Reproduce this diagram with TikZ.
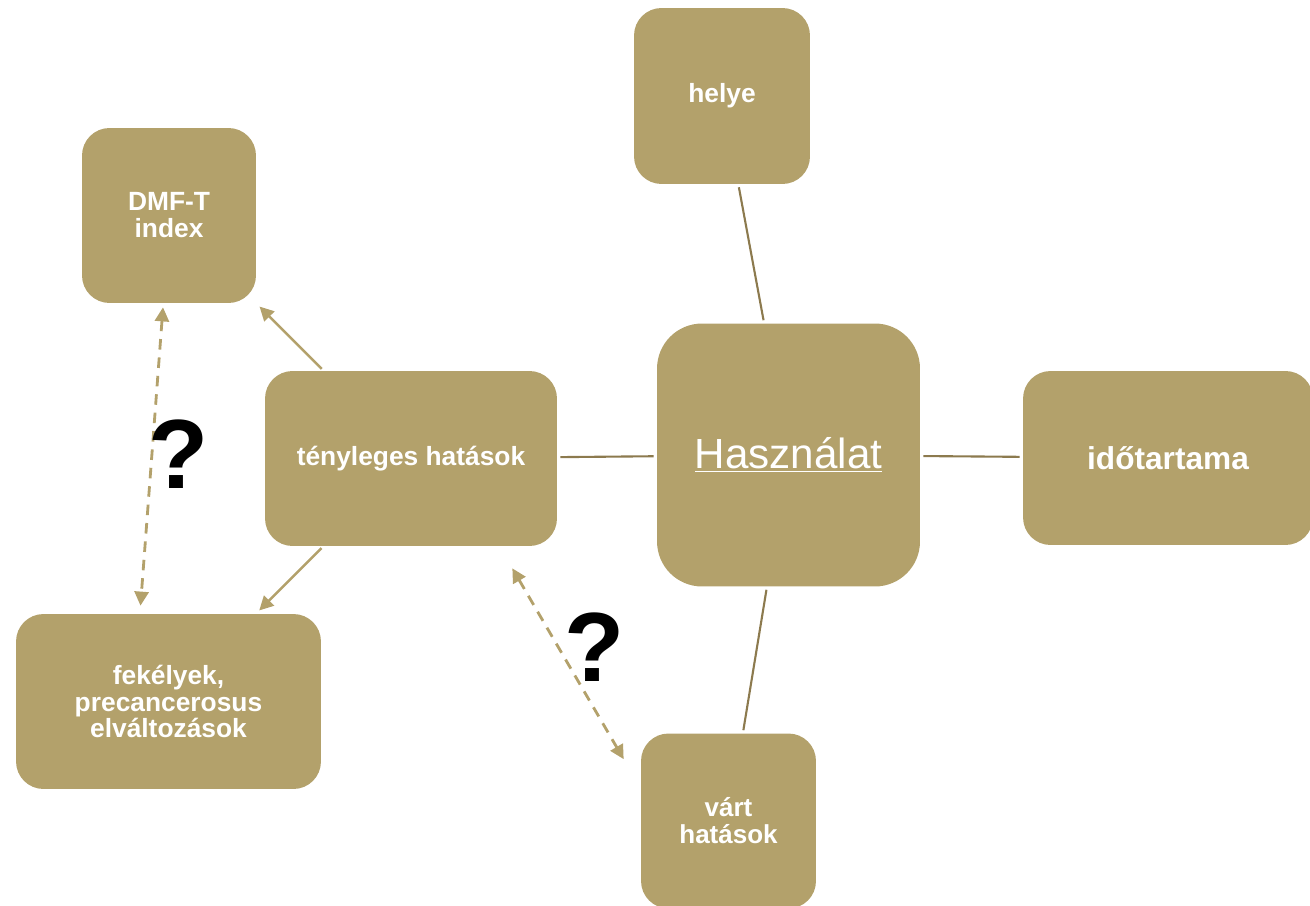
\documentclass[tikz,border=0pt]{standalone}
\usepackage{fontspec}
\setmainfont{Liberation Sans}
\usetikzlibrary{positioning}
\usetikzlibrary{calc}
\usetikzlibrary{arrows.meta}
\definecolor{arany}{RGB}{179,161,107}
\definecolor{sotetarany}{RGB}{140,122,78}

\begin{document}
\begin{tikzpicture}[x=0.02cm,y=-0.02cm]
% paramètres
\tikzstyle doboz=[fill=arany,text=white,rounded corners=0.55cm,align=center,inner sep=0pt]
\tikzstyle nagydoboz=[doboz,rounded corners=0.9cm]
\tikzstyle vonal=[draw=sotetarany,line width=1.2pt,shorten <=1.7pt,shorten >=1.7pt]
\tikzstyle nyil=[draw=arany,line width=1.4pt,-{Triangle[length=8pt,width=8pt]},shorten <=1.4pt,shorten >=2.6pt]
\tikzstyle szaggatott=[draw=arany,line width=1.6pt,dash pattern=on 6pt off 4.5pt,{Triangle[length=8pt,width=8pt]}-{Triangle[length=8pt,width=8pt]}]
\tikzstyle kerdes=[font=\bfseries\fontsize{56}{60}\selectfont,inner sep=0pt]
\newcommand{\kisbetu}{\bfseries\fontsize{15}{15.3}\selectfont} % szöveg a dobozokban
\newcommand{\dobozmag}{3.5cm} % magasság

% le cadre
\useasboundingbox (0,0) rectangle (1310,905);
\clip (0,0) rectangle (1310,905);

% les boîtes
\node[nagydoboz,minimum width=5.26cm,minimum height=5.26cm,font=\fontsize{24}{28}\selectfont] (haszn) at (788.5,455) {\underline{Használat}};
\node[doboz,minimum width=3.52cm,minimum height=3.52cm,font=\kisbetu] (helye) at (722,96) {helye};
\node[doboz,minimum width=5.84cm,minimum height=\dobozmag,font=\kisbetu] (teny) at (411,458.5) {tényleges hatások};
\node[doboz,minimum width=5.8cm,minimum height=3.48cm,font=\bfseries\fontsize{18}{20}\selectfont] (ido) at (1168,458) {időtartama};
\node[doboz,minimum width=3.5cm,minimum height=\dobozmag,font=\bfseries\fontsize{14.8}{15.3}\selectfont] (vart) at (728.5,821) {várt\\hatások};
\node[doboz,minimum width=3.48cm,minimum height=\dobozmag,font=\kisbetu] (dmf) at (169,215.5) {DMF-T\\index};
\node[doboz,minimum width=6.1cm,minimum height=\dobozmag,font=\bfseries\fontsize{15}{15.3}\selectfont] (fek) at (168.5,701.5) {fekélyek,\\precancerosus\\elváltozások};

% les liaisons
\foreach \cel in {helye,teny,ido,vart}
    \draw[vonal] (haszn) -- (\cel);
\draw[nyil] (teny) -- (dmf);
\draw[nyil] (teny) -- (fek);
\draw[szaggatott] ($(dmf.south)+(-6,4)$) -- ($(fek.north)+(-28,-8)$);
\draw[szaggatott] ($(teny.south east)+(-45,22)$) -- ($(vart.north west)+(-17,26)$);

% les points d'interrogation
\node[kerdes] (kerdes1) at (179,454.5) {?};
\node[kerdes] (kerdes2) at (595,647.5) {?};
\end{tikzpicture}
\end{document}
